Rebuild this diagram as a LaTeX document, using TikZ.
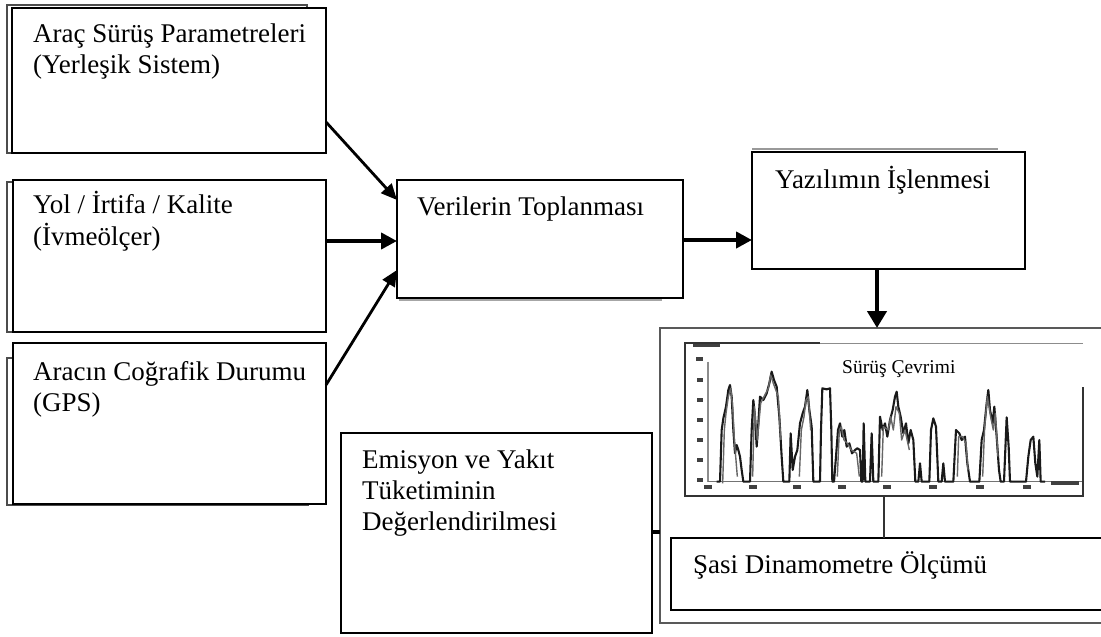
\documentclass[tikz,border=0pt]{standalone}
\usepackage{fontspec}
\setmainfont{Liberation Serif}
\usetikzlibrary{arrows.meta,calc}
\begin{document}
\begin{tikzpicture}[x=1pt,y=-1pt,
  box/.style={draw=black, line width=1.6pt, fill=white, rectangle, inner sep=0pt, outer sep=0pt, anchor=north west},
  shadowbox/.style={draw=black!70, line width=1.6pt},
  lbl/.style={anchor=base west, inner sep=0pt, font=\fontsize{27}{31}\selectfont},
  smalllbl/.style={anchor=base west, inner sep=0pt, font=\fontsize{19.5}{22}\selectfont},
  arr/.style={line width=2.8pt, -{Triangle[length=16pt,width=14pt]}},
  harr/.style={line width=4.4pt, -{Triangle[length=16pt,width=16pt]}},
  vbarr/.style={line width=4.4pt, -{Triangle[length=17pt,width=19pt]}},
  frame/.style={draw=black!80, line width=1.8pt},
  trace/.style={line width=2.1pt, black!90, line join=round},
  trace2/.style={line width=1.4pt, black!60, line join=round},
  blob/.style={fill=black!75},
]
\useasboundingbox (0,0) rectangle (1101,637);
\fill[white] (0,0) rectangle (1101,637);
\clip (0,0) rectangle (1101,637);

% shadows of the left boxes
\draw[shadowbox] (7,5) rectangle (307,153);
\draw[shadowbox] (7,182) rectangle (310,332);
\draw[shadowbox] (7,358) rectangle (308,505);
\draw[draw=black!40, line width=1.2pt] (752,149) -- (998,149);
\draw[draw=black!35, line width=1.2pt] (399,300) -- (662,300);

% boxes
\node[box, minimum width=314pt, minimum height=145pt] (b1) at (12,8) {};
\node[box, minimum width=313pt, minimum height=152pt] (b2) at (13,180) {};
\node[box, minimum width=313pt, minimum height=161pt] (b3) at (13,343) {};
\node[box, minimum width=286pt, minimum height=118pt] (ver) at (397,180) {};
\node[box, minimum width=273pt, minimum height=117pt] (yaz) at (752,152) {};
\node[box, draw=black!65, line width=2.4pt, minimum width=460pt, minimum height=295pt] (big) at (660,328) {};
\node[box, minimum width=311pt, minimum height=200pt] (emi) at (341,433) {};
\node[box, minimum width=440pt, minimum height=72pt] (sasi) at (671,538) {};

% texts
\node[lbl] (t1a) at (33,42) {Araç Sürüş Parametreleri};
\node[lbl] (t1b) at (33,73) {(Yerleşik Sistem)};
\node[lbl] (t2a) at (33,213) {Yol / İrtifa / Kalite};
\node[lbl] (t2b) at (33,245) {(İvmeölçer)};
\node[lbl] (t3a) at (33,380) {Aracın Coğrafik Durumu};
\node[lbl] (t3b) at (33,411) {(GPS)};
\node[lbl] (tv) at (417,215) {Verilerin Toplanması};
\node[lbl] (ty) at (775,188) {Yazılımın İşlenmesi};
\node[lbl] (tea) at (362,468) {Emisyon ve Yakıt};
\node[lbl] (teb) at (362,499) {Tüketiminin};
\node[lbl] (tec) at (362,530) {Değerlendirilmesi};
\node[lbl] (ts) at (693,573) {Şasi Dinamometre Ölçümü};

% chart
\node[inner sep=0pt, outer sep=0pt, minimum width=398pt, minimum height=153pt, anchor=north west] (chart) at (685,343) {};
\begin{scope}[shift={(640,330)}, scale=1/3]
  \draw[black!45, line width=1.8pt] (205,95) -- (205,455);
  \draw[black!55, line width=1.2pt] (205,455) -- (1325,455);
  \draw[trace] (230,455) -- (240,455) -- (245,300) -- (250,265) -- (258,230) -- (265,180) -- (270,165) -- (275,200) -- (280,300) -- (285,370) -- (290,345) -- (295,360) -- (300,380) -- (305,420) -- (310,455) -- (330,455) -- (335,300) -- (340,210) -- (345,260) -- (350,350) -- (355,280) -- (360,200) -- (370,210) -- (380,190) -- (388,160) -- (395,125) -- (402,150) -- (410,170) -- (418,260) -- (425,380) -- (430,455) -- (448,455) -- (452,310) -- (458,420) -- (465,380) -- (472,360) -- (480,280) -- (488,250) -- (495,230) -- (502,180) -- (508,240) -- (515,290) -- (520,455) -- (540,455) -- (543,300) -- (547,175) -- (560,178) -- (570,175) -- (574,300) -- (577,455) -- (582,455) -- (588,380) -- (594,300) -- (600,280) -- (607,320) -- (613,300) -- (620,350) -- (628,340) -- (636,370) -- (645,360) -- (652,355) -- (660,360) -- (664,455) -- (668,455) -- (671,280) -- (676,455) -- (690,455) -- (695,310) -- (700,455) -- (715,455) -- (720,260) -- (728,300) -- (735,280) -- (742,320) -- (750,270) -- (758,240) -- (765,200) -- (770,185) -- (775,230) -- (782,260) -- (790,310) -- (798,280) -- (805,340) -- (812,300) -- (820,330) -- (826,455) -- (835,455) -- (840,400) -- (845,455) -- (868,455) -- (873,300) -- (880,265) -- (888,290) -- (895,455) -- (905,455) -- (910,400) -- (915,455) -- (940,455) -- (948,300) -- (958,310) -- (965,330) -- (975,320) -- (982,400) -- (990,455) -- (1018,455) -- (1025,330) -- (1032,300) -- (1040,220) -- (1045,180) -- (1050,240) -- (1058,280) -- (1063,230) -- (1070,320) -- (1077,420) -- (1082,455) -- (1092,455) -- (1100,262) -- (1106,350) -- (1110,455) -- (1158,455) -- (1165,380) -- (1172,330) -- (1180,320) -- (1186,400) -- (1192,440) -- (1198,330) -- (1202,455) -- (1215,455);
  \draw[trace2] (248,460) -- (253,300) -- (258,250) -- (265,200) -- (272,175) -- (278,230) -- (283,330) -- (292,440);
  \draw[trace2] (338,440) -- (343,230) -- (352,330) -- (362,220) -- (372,200) -- (385,175) -- (392,135) -- (400,160) -- (415,200) -- (422,330);
  \draw[trace2] (478,440) -- (484,300) -- (492,260) -- (498,210) -- (505,200) -- (512,300);
  \draw[trace2] (592,440) -- (598,300) -- (604,290) -- (612,330) -- (622,340) -- (634,360) -- (650,370) -- (658,440);
  \draw[trace2] (725,440) -- (730,290) -- (745,300) -- (752,260) -- (760,300) -- (768,230) -- (778,250) -- (785,330) -- (795,300) -- (808,360);
  \draw[trace2] (952,440) -- (956,320) -- (968,320) -- (978,340) -- (984,420);
  \draw[trace2] (1028,440) -- (1034,290) -- (1042,200) -- (1052,260) -- (1060,300) -- (1066,250) -- (1074,380);
  % tick labels (blurred)
  \foreach \yy in {150,210,270,330,390,450} \fill[blob] (170,\yy-5) rectangle (190,\yy+5);
  \fill[blob] (160,40) rectangle (240,52);
  \fill[blob] (168,80) rectangle (190,92);
  \foreach \xx in {205,340,470,605,740,880,1020,1160} \fill[blob] (\xx-12,466) rectangle (\xx+12,478);
  \fill[blob] (1232,452) rectangle (1318,464);
\end{scope}
\fill[white] (820,345) rectangle (1082,386);
\draw[frame] (820,343) -- (chart.north west) -- (chart.south west) -- (chart.south east) -- (1083,387);
\draw[black!45, line width=0.8pt] (820,343) -- (chart.north east);
\node[smalllbl] (tc) at (842,373) {Sürüş Çevrimi};

% connectors
\draw[arr] ($(b1.south east)+(0,-31)$) -- ($(ver.north west)+(0,20)$);
\draw[harr] ($(b2.north east)+(0,61)$) -- ($(ver.north west)+(0,61)$);
\draw[arr] ($(b3.north east)+(0,42)$) -- ($(ver.north west)+(0,90)$);
\draw[harr] ($(ver.north east)+(0,60)$) -- ($(yaz.north west)+(0,88)$);
\coordinate (yazout) at ($(yaz.south west)+(125,0)$);
\draw[vbarr] (yazout) -- (yazout |- big.north);
\draw[line width=1.5pt, black!80] (chart.south) -- (chart.south |- sasi.north);
\coordinate (emiout) at ($(emi.north east)+(0,99)$);
\draw[line width=3.2pt] (emiout) -- (emiout -| big.west);
\end{tikzpicture}
\end{document}
